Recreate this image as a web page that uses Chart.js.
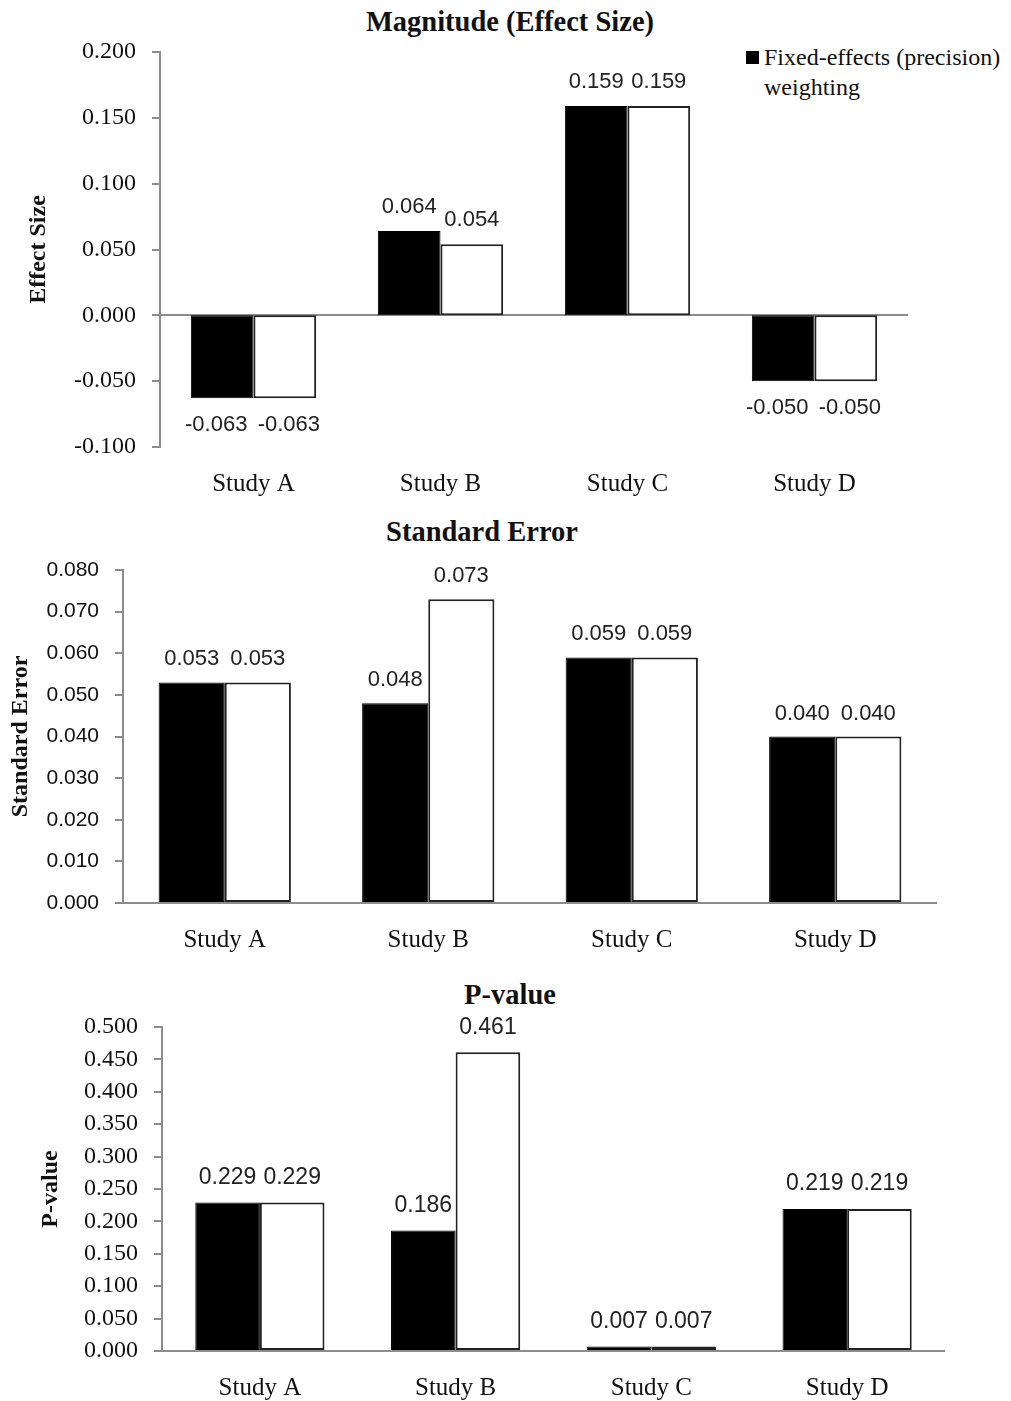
<!DOCTYPE html>
<html>
<head>
<meta charset="utf-8">
<script src="https://cdn.jsdelivr.net/npm/chart.js@4"></script>
<style>
  body { margin: 0; background: #fff; }
  #page { position: relative; width: 1011px; height: 1401px; overflow: hidden; font-family: "Liberation Serif", "Times New Roman", serif; color: #111; }
  .box { position: absolute; left: 0; width: 1011px; }
  .ttl { position: absolute; font-weight: bold; font-size: 28.5px; transform: translate(-50%, -50%); white-space: nowrap; }
  .legend-sq { position: absolute; left: 746px; top: 51px; width: 13px; height: 13px; background: #000; }
  .legend-txt { position: absolute; left: 764px; top: 42px; font-size: 24px; line-height: 30px; white-space: nowrap; }
</style>
</head>
<body>
<div id="page">
  <div class="ttl" style="left:510px;top:22px">Magnitude (Effect Size)</div>
  <div class="ttl" style="left:482px;top:532px">Standard Error</div>
  <div class="ttl" style="left:510px;top:995px">P-value</div>
  <div class="legend-sq"></div>
  <div class="legend-txt">Fixed-effects (precision)<br>weighting</div>

  <div class="box" style="top:0;height:497px"><canvas id="effectChart"></canvas></div>
  <div class="box" style="top:497px;height:456px"><canvas id="seChart"></canvas></div>
  <div class="box" style="top:953px;height:448px"><canvas id="pChart"></canvas></div>
</div>

<script>
// data
const studies = ['Study A', 'Study B', 'Study C', 'Study D'];

const effectFixed = [-0.063, 0.064, 0.159, -0.050];
const effectOther = [-0.063, 0.054, 0.159, -0.050];

const seFixed = [0.053, 0.048, 0.059, 0.040];
const seOther = [0.053, 0.073, 0.059, 0.040];

const pFixed = [0.229, 0.186, 0.007, 0.219];
const pOther = [0.229, 0.461, 0.007, 0.219];

// y axis ranges: [min, max, step]
const effectRange = [-0.1, 0.2, 0.05];
const seRange = [0, 0.08, 0.01];
const pRange = [0, 0.5, 0.05];

const axisGrey = '#8c8c8c';
const serif = '"Liberation Serif", "Times New Roman", serif';
const sans = '"Liberation Sans", Arial, sans-serif';

// value labels above (or under, for negatives) each bar
const valueLabels = {
  id: 'valueLabels',
  afterDatasetsDraw(chart, args, opts) {
    const ctx = chart.ctx;
    ctx.save();
    ctx.font = opts.font;
    ctx.fillStyle = '#222';
    ctx.textAlign = 'center';
    ctx.textBaseline = 'middle';
    chart.data.datasets.forEach((ds, i) => {
      chart.getDatasetMeta(i).data.forEach((bar, j) => {
        const v = ds.data[j];
        const y = v < 0 ? bar.y + opts.below : bar.y - opts.above;
        // nudge the pair apart a little, like the original
        const dx = v < 0 ? (i === 0 ? -6 : 4) : 0;
        ctx.fillText(v.toFixed(3), bar.x + dx, y);
      });
    });
    ctx.restore();
  }
};

function makeChart(id, cfg) {
  const ctx = document.getElementById(id).getContext('2d');
  return new Chart(ctx, {
    type: 'bar',
    data: {
      labels: studies,
      datasets: [
        {
          label: 'Fixed-effects (precision) weighting',
          data: cfg.fixed,
          backgroundColor: '#000',
          borderColor: '#000',
          borderWidth: 1,
          borderSkipped: false
        },
        {
          label: 'Other weighting',
          data: cfg.other,
          backgroundColor: '#fff',
          borderColor: '#222',
          borderWidth: 2,
          borderSkipped: false
        }
      ]
    },
    options: {
      responsive: true,
      maintainAspectRatio: false,
      animation: false,
      categoryPercentage: cfg.catPct,
      barPercentage: 1,
      layout: { padding: { top: cfg.padTop, right: cfg.padRight, left: 0, bottom: 0 } },
      plugins: {
        legend: { display: false },
        tooltip: { enabled: false },
        valueLabels: { font: cfg.labelFont, above: cfg.above || 24, below: 27 }
      },
      scales: {
        x: {
          grid: { display: false, drawTicks: false },
          border: { display: false },
          ticks: { font: { family: serif, size: 25 }, color: '#111', padding: 22 },
          afterFit: s => { s.height = 50; }
        },
        y: {
          min: cfg.range[0],
          max: cfg.range[1],
          ticks: {
            stepSize: cfg.range[2],
            autoSkip: false,
            callback: v => v.toFixed(3),
            font: cfg.tickFont,
            color: '#111',
            padding: 16
          },
          grid: {
            color: c => (c.tick && Math.abs(c.tick.value) < 1e-9) ? axisGrey : 'rgba(0,0,0,0)',
            tickColor: axisGrey,
            tickLength: 8,
            lineWidth: 2
          },
          border: { color: axisGrey, width: 2 },
          title: {
            display: true,
            text: cfg.yTitle,
            font: { family: serif, size: 24, weight: 'bold' },
            color: '#111',
            padding: { top: cfg.yTitlePad, bottom: 0 }
          },
          afterFit: s => { s.width = cfg.axisX; }
        }
      }
    },
    plugins: [valueLabels]
  });
}

makeChart('effectChart', {
  fixed: effectFixed, other: effectOther, range: effectRange,
  yTitle: 'Effect Size', yTitlePad: 24, axisX: 160,
  padTop: 52, padRight: 103, catPct: 0.67,
  tickFont: { family: serif, size: 24 },
  labelFont: '22px ' + sans
});

makeChart('seChart', {
  fixed: seFixed, other: seOther, range: seRange,
  yTitle: 'Standard Error', yTitlePad: 6, axisX: 123,
  padTop: 73, padRight: 74, catPct: 0.65,
  tickFont: { family: sans, size: 21 },
  labelFont: '22px ' + sans, above: 23
});

makeChart('pChart', {
  fixed: pFixed, other: pOther, range: pRange,
  yTitle: 'P-value', yTitlePad: 36, axisX: 162,
  padTop: 74, padRight: 66, catPct: 0.66,
  tickFont: { family: serif, size: 24 },
  labelFont: '23px ' + sans, above: 25
});
</script>
</body>
</html>
